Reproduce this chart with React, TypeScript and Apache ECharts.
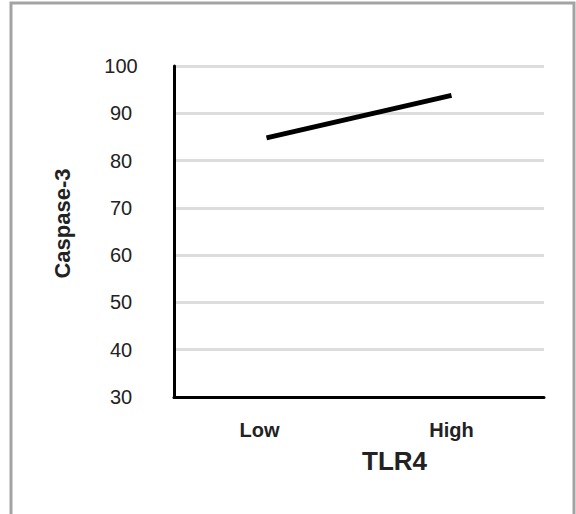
import React, { useEffect, useRef } from "react";
import * as echarts from "echarts";

const categories = ["Low", "High"];
const caspaseValues = [84.8, 93.8];
const yTicks = { min: 30, max: 100, interval: 10 };

export default function App() {
  const ref = useRef<HTMLDivElement>(null);
  useEffect(() => {
    const chart = echarts.init(ref.current!, null, { renderer: "svg" });
    const categoryData = categories.map((c, i) =>
      i === 0 ? { value: c, textStyle: { padding: [0, 14, 0, 0] } } : c
    );
    chart.setOption({
      animation: false,
      backgroundColor: "#ffffff",
      graphic: [
        {
          type: "rect",
          shape: { x: 11, y: 3, width: 563, height: 540 },
          style: { fill: "none", stroke: "#a3a3a3", lineWidth: 3 },
          silent: true,
        },
      ],
      grid: { left: 174, top: 66, right: 32, bottom: 117 },
      xAxis: {
        type: "category",
        data: categoryData,
        boundaryGap: true,
        axisLine: { show: true, lineStyle: { color: "#000", width: 3 } },
        axisTick: { show: false },
        axisLabel: {
          margin: 23,
          fontFamily: "Liberation Sans",
          fontSize: 20,
          fontWeight: "bold",
          color: "#222",
        },
        name: "TLR4",
        nameLocation: "middle",
        nameGap: 51,
        nameTextStyle: {
          fontFamily: "Liberation Sans",
          fontSize: 26,
          fontWeight: "bold",
          color: "#222",
          padding: [0, 0, 0, 71],
        },
      },
      yAxis: {
        type: "value",
        min: yTicks.min,
        max: yTicks.max,
        interval: yTicks.interval,
        axisLine: { show: true, lineStyle: { color: "#000", width: 3 } },
        axisTick: { show: false },
        splitLine: { show: true, lineStyle: { color: "#dddddd", width: 3 } },
        axisLabel: {
          margin: 53,
          align: "center",
          fontFamily: "Liberation Sans",
          fontSize: 20,
          color: "#222",
        },
        name: "Caspase-3",
        nameLocation: "middle",
        nameGap: 101,
        nameTextStyle: {
          fontFamily: "Liberation Sans",
          fontSize: 22,
          fontWeight: "bold",
          color: "#222",
          padding: [0, 0, 0, 16],
        },
      },
      series: [
        {
          type: "line",
          data: caspaseValues,
          showSymbol: false,
          symbol: "none",
          lineStyle: { color: "#000", width: 5 },
        },
      ],
    });
    return () => chart.dispose();
  }, []);
  return (
    <div
      ref={ref}
      style={{ position: "fixed", left: 0, top: 0, width: 576, height: 514 }}
    />
  );
}
